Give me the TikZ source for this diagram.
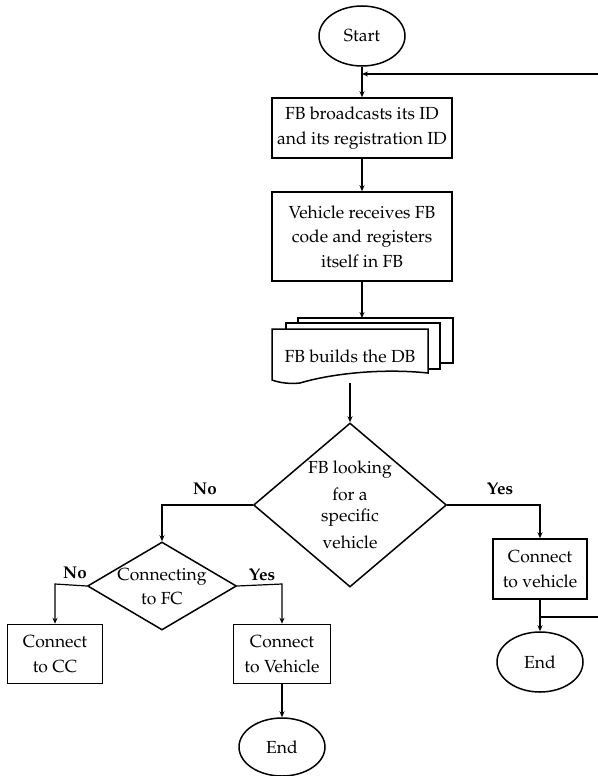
\documentclass[tikz,border=0pt]{standalone}
\usepackage[T1]{fontenc}
\usepackage{palatino}
\usetikzlibrary{shapes.geometric,arrows.meta}
\tikzset{
  every node/.style={font=\fontsize{17.5}{24.5}\selectfont, align=center, inner sep=0pt},
  procbox/.style={draw, line width=1.5pt, rectangle},
  term/.style={draw, line width=1.5pt, ellipse},
  decide/.style={draw, line width=1.5pt, diamond, aspect=1},
  conn/.style={line width=1.2pt, -{Stealth[length=6pt,width=5pt]}},
  lbl/.style={font=\fontsize{17}{20}\selectfont\bfseries},
  sheet/.style={draw, line width=1.5pt, fill=white}
}
\begin{document}
\begin{tikzpicture}[x=1pt,y=-1pt]
\useasboundingbox (0,0) rectangle (597,776);

\node[term, minimum width=86pt, minimum height=60pt] (start) at (362,36) {Start};
\node[procbox, minimum width=180pt, minimum height=60pt] (b1) at (362,128) {FB broadcasts its ID\\and its registration ID};
\node[procbox, minimum width=180pt, minimum height=89pt] (b2) at (362,236.5) {Vehicle receives FB\\code and registers\\itself in FB};

% document stack
\draw[sheet] (298,318) -- (453,318) -- (453,363) -- (428,363) -- (428,340) -- (298,340) -- cycle;
\draw[sheet] (286,323) -- (440,323) -- (440,369) -- (428,369) -- (428,340) -- (286,340) -- cycle;
\draw[sheet] (272,329) -- (428,329) -- (428,373) .. controls (380,368) and (330,374) .. (300,383) .. controls (290,384) and (280,383) .. (272,380) -- cycle;
\node (db) at (350,356) {FB builds the DB};
\coordinate (dbtop) at (362,318);
\coordinate (dbbot) at (350,383);

\node[decide, minimum width=193pt, minimum height=164pt, aspect=1.18] (d1) at (350,505) {};
\node at (350,470) {FB looking};
\node at (350,494) {for a};
\node at (350,518) {specific};
\node at (350,542) {vehicle};

\node[procbox, minimum width=94pt, minimum height=60pt] (cv) at (540,569) {Connect\\to vehicle};
\node[term, minimum width=86pt, minimum height=60pt] (e1) at (540,662) {End};

\node[decide, minimum width=149pt, minimum height=88pt, aspect=1.7] (d2) at (162,586) {};
\node at (162,577) {Connecting};
\node at (162,599) {to FC};

\node[procbox, minimum width=95pt, minimum height=59pt] (cc) at (55,654) {Connect\\to CC};
\node[procbox, minimum width=97pt, minimum height=59pt] (cveh) at (282,654) {Connect\\to Vehicle};
\node[term, minimum width=86pt, minimum height=58pt] (e2) at (282,747) {End};

% connectors
\draw[conn] (start) -- (b1);
\draw[conn] (b1) -- (b2);
\draw[conn] (b2.south) -- (dbtop);
\draw[conn] (dbbot) -- (d1.north);

\coordinate (yc) at (540,505);
\draw[conn] (d1.east) -- (yc) -- (cv.north);
\node[lbl] (y1) at (500,489) {Yes};
\coordinate (nc) at (162,505);
\draw[conn] (d1.west) -- (nc) -- (d2.north);
\node[lbl] (n1) at (205,489) {No};

\coordinate (n2c) at (55,584);
\draw[conn] (d2.west) -- (n2c) -- (cc.north);
\node[lbl] (n2) at (75,573) {No};
\coordinate (y2c) at (282,584);
\draw[conn] (d2.east) -- (y2c) -- (cveh.north);
\node[lbl] (y2) at (262,575) {Yes};

\draw[conn] (cv) -- (e1);
\draw[conn] (cveh) -- (e2);

\coordinate (lp) at (540,617);
\coordinate (r1) at (598.2,617);
\coordinate (r2) at (598.2,74);
\coordinate (jn) at (362,74);
\draw[conn] (lp) -- (r1) -- (r2) -- (jn);
\end{tikzpicture}
\end{document}
